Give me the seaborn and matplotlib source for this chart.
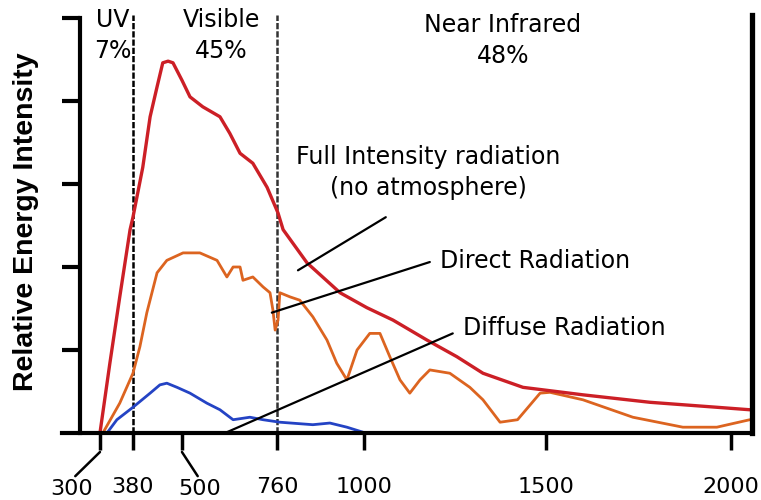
import numpy as np
import pandas as pd
import seaborn as sns
import matplotlib
matplotlib.use("Agg")
import matplotlib.pyplot as plt

# wavelength (nm) and relative intensity
full_nm = [300, 324, 348, 373, 380, 404, 422, 439, 453, 466, 478, 500, 522, 557, 604,
           631, 659, 694, 733, 763, 777, 843, 934, 1008, 1080, 1173, 1255, 1327, 1437,
           1600, 1781, 1962, 2051]
full_val = [0, 0.84, 1.64, 2.45, 2.60, 3.20, 3.81, 4.17, 4.46, 4.48, 4.46, 4.25, 4.05,
            3.93, 3.81, 3.61, 3.37, 3.25, 2.96, 2.65, 2.45, 2.05, 1.69, 1.51, 1.36, 1.12,
            0.92, 0.72, 0.55, 0.46, 0.37, 0.31, 0.28]

direct_nm = [307, 348, 380, 397, 414, 439, 463, 503, 549, 596, 623, 640, 659, 667, 694,
             722, 741, 749, 755, 763, 768, 796, 823, 859, 898, 925, 953, 981, 1016, 1044,
             1071, 1099, 1126, 1154, 1181, 1236, 1291, 1327, 1374, 1422, 1484, 1511, 1600,
             1735, 1870, 1962, 2051]
direct_val = [0, 0.36, 0.72, 1.04, 1.45, 1.93, 2.08, 2.17, 2.17, 2.08, 1.88, 2.00, 2.00,
              1.84, 1.88, 1.76, 1.69, 1.48, 1.24, 1.36, 1.69, 1.64, 1.60, 1.40, 1.12, 0.84,
              0.64, 1.00, 1.20, 1.20, 0.92, 0.64, 0.48, 0.64, 0.76, 0.72, 0.55, 0.40, 0.13,
              0.16, 0.48, 0.49, 0.40, 0.19, 0.07, 0.07, 0.16]

diffuse_nm = [317, 341, 380, 422, 446, 463, 488, 522, 568, 604, 640, 686, 722, 768, 859,
              906, 953, 997]
diffuse_val = [0, 0.16, 0.31, 0.48, 0.58, 0.60, 0.55, 0.48, 0.36, 0.28, 0.16, 0.19, 0.16,
               0.13, 0.10, 0.12, 0.07, 0.01]

tick_nm = [300, 380, 500, 760, 1000, 1500, 2000]
tick_labels = ["300", "380", "500", "760", "1000", "1500", "2000"]
y_ticks = [1, 2, 3, 4, 5]
band_edges = [380, 760]
band_names = ["UV\n7%", "Visible\n45%", "Near Infrared\n48%"]

# the hand-drawn axis is stretched a little below 500 nm
axis_nm = [0, 300, 380, 500, 760, 1000, 1500, 2000, 3000]
axis_pos = [-23.8, 100, 133, 182, 277, 364, 546, 731, 1100.9]


def fwd(x):
    return np.interp(x, axis_nm, axis_pos)


def inv(p):
    return np.interp(p, axis_pos, axis_nm)


sns.set_style("white")
plt.rcParams["font.family"] = ["DejaVu Sans"]
plt.rcParams["text.color"] = "black"
plt.rcParams["xtick.color"] = "black"

fig = plt.figure(figsize=(7.61, 5), dpi=100)
ax = fig.add_axes([62 / 761, 67 / 500, 690 / 761, 418 / 500])
ax.set_xscale("function", functions=(fwd, inv))

full = pd.DataFrame({"nm": full_nm, "val": full_val})
direct = pd.DataFrame({"nm": direct_nm, "val": direct_val})
diffuse = pd.DataFrame({"nm": diffuse_nm, "val": diffuse_val})

sns.lineplot(data=diffuse, x="nm", y="val", color="#2443c4", lw=2.0, ax=ax)
sns.lineplot(data=direct, x="nm", y="val", color="#dc6420", lw=2.0, ax=ax)
sns.lineplot(data=full, x="nm", y="val", color="#cc1f26", lw=2.4, ax=ax)

for edge, col in zip(band_edges, ["black", "#333333"]):
    ax.axvline(edge, color=col, lw=1.8, ls=(0, (2.5, 0.8)), zorder=1)

ax.set_xlim(208, 2057)
ax.set_ylim(0, 418 / 83)
ax.set_xlabel("")
ax.set_ylabel("")

ax.spines["top"].set_visible(False)
ax.spines["left"].set_position(("data", 251.5))
ax.spines["left"].set_bounds(0, 5)
ax.spines["left"].set_linewidth(3)
ax.spines["bottom"].set_linewidth(3)
ax.spines["right"].set_linewidth(3.8)
for s in ["left", "bottom", "right"]:
    ax.spines[s].set_color("black")

ax.set_yticks(y_ticks)
ax.set_yticklabels([])
ax.tick_params(axis="y", left=True, direction="out", length=13, width=3, color="black")

ax.set_xticks(tick_nm, tick_labels)
ax.tick_params(axis="x", bottom=True, direction="out", length=12, width=2.5,
               color="black", pad=20, labelsize=16)
for lab in ax.get_xticklabels():
    if lab.get_text() in ("300", "500"):
        lab.set_visible(False)

# offset labels with leader lines
for val, tx in [(300, 232), (500, 549)]:
    ax.annotate(str(val), xy=(val, -0.229), xytext=(tx, -0.68), ha="center", va="center",
                fontsize=16, annotation_clip=False,
                arrowprops=dict(arrowstyle="-", lw=1.8, color="black", shrinkA=0, shrinkB=0,
                                relpos=(0.5, 1.0)))

# band names
for name, x, y in zip(band_names, [331, 607, 1382], [5.12, 5.12, 5.06]):
    ax.text(x, y, name, ha="center", va="top", fontsize=17, linespacing=1.35,
            clip_on=False)

ax.text(1176, 3.47, "Full Intensity radiation\n(no atmosphere)", ha="center", va="top",
        fontsize=17, linespacing=1.35)
ax.text(1209, 2.07, "Direct Radiation", ha="left", va="center", fontsize=17)
ax.text(1272, 1.27, "Diffuse Radiation", ha="left", va="center", fontsize=17)

for a, b in [((1060, 2.60), (818, 1.96)),
             ((1181, 2.06), (746, 1.45)),
             ((1244, 1.20), (618, 0.0))]:
    ax.annotate("", xy=b, xytext=a,
                arrowprops=dict(arrowstyle="-", lw=1.6, color="black", shrinkA=0, shrinkB=0))

ax.text(-0.052, 0.505, "Relative Energy Intensity", transform=ax.transAxes, rotation=90,
        ha="center", va="center", fontsize=20.5, fontweight="bold",
        family=["Liberation Sans", "DejaVu Sans"])

fig.savefig("out.png", dpi=100)
